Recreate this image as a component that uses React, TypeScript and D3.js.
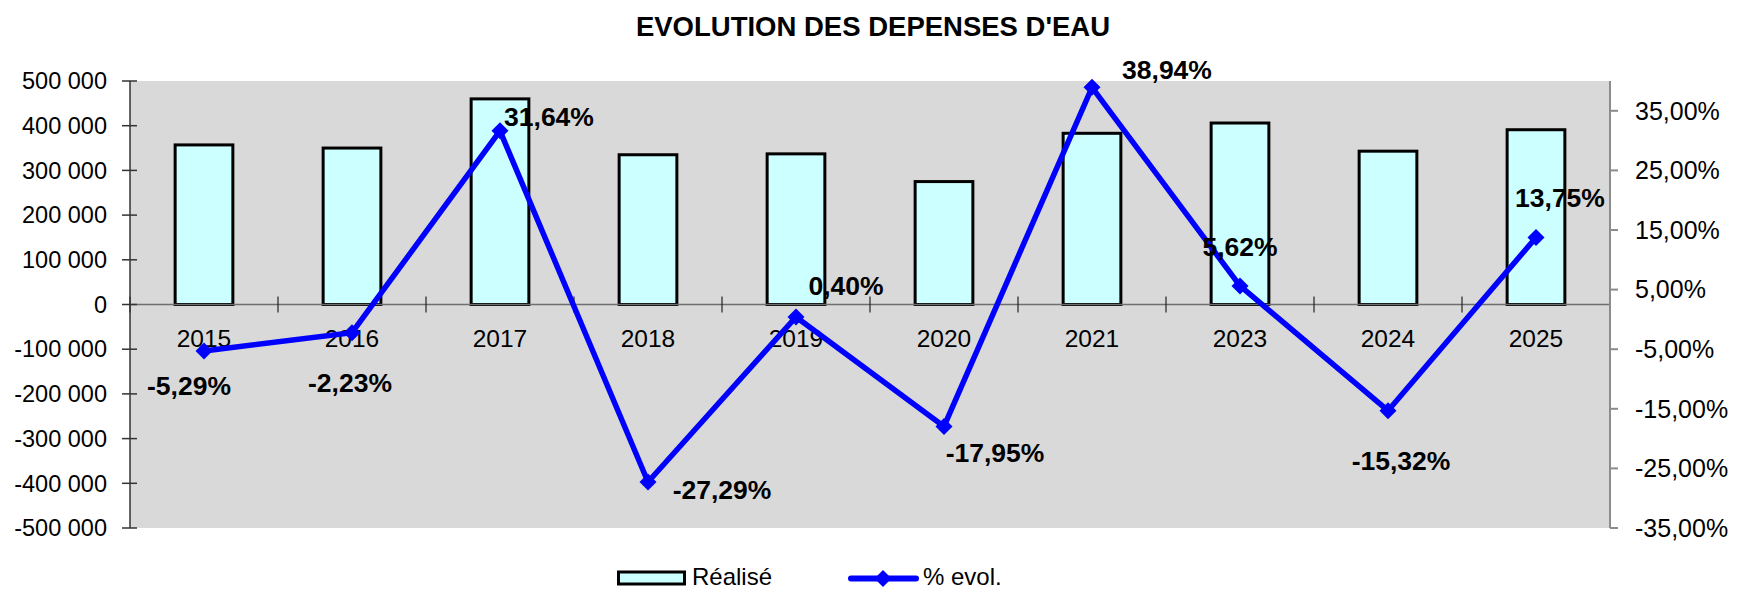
import React from "react";
import * as d3 from "d3";

const categories = ["2015", "2016", "2017", "2018", "2019", "2020", "2021", "2023", "2024", "2025"];
const realise = [357000, 350000, 460000, 335000, 337000, 275000, 383000, 406000, 343000, 391000];
const evolution = [-5.29, -2.23, 31.64, -27.29, 0.4, -17.95, 38.94, 5.62, -15.32, 13.75];
const leftTicks = [-500000, -400000, -300000, -200000, -100000, 0, 100000, 200000, 300000, 400000, 500000];
const rightTicks = [-35, -25, -15, -5, 5, 15, 25, 35];
const title = "EVOLUTION DES DEPENSES D'EAU";
const seriesNames = ["Réalisé", "% evol."];
// label placement relative to each point: [dx to label centre, dy to baseline]
const labelOffsets: [number, number][] = [
  [-15, 44], [-2, 59], [49, -5], [74, 17], [50, -22],
  [51, 36], [75, -8], [0, -30], [13, 59], [24, -30],
];

const W = 1740;
const H = 589;
const plot = { left: 130, right: 1610, top: 81, bottom: 528 };
const FONT = "'Liberation Sans', Arial, Helvetica, sans-serif";

const fmtThousands = (v: number) => {
  const s = d3.format(",")(Math.abs(v)).replace(/,/g, " ");
  return (v < 0 ? "-" : "") + s;
};
const fmtPct = (v: number) =>
  (v < 0 ? "-" : "") + d3.format(".2f")(Math.abs(v)).replace(".", ",") + "%";

export default function App() {
  const x = d3.scaleBand<string>().domain(categories).range([plot.left, plot.right]).padding(0);
  const yL = d3.scaleLinear().domain([-500000, 500000]).range([plot.bottom, plot.top]);
  const yR = d3.scaleLinear().domain([-35, 40]).range([plot.bottom, plot.top]);
  const bw = x.bandwidth();
  const barW = bw * 0.39;
  const cx = (c: string) => (x(c) as number) + bw / 2;

  const line = d3
    .line<number>()
    .x((_, i) => cx(categories[i]))
    .y((d) => yR(d));

  const diamond = (px: number, py: number, r = 8.5) =>
    `M${px},${py - r}L${px + r},${py}L${px},${py + r}L${px - r},${py}Z`;

  const y0 = yL(0);
  const boundaries = categories.map((c) => x(c) as number).concat([plot.right]);

  return (
    <svg width={W} height={H} style={{ position: "absolute", left: 0, top: 0, background: "#fff" }} fontFamily={FONT}>
      {/* title */}
      <text x={W / 2 + 3} y={36} textAnchor="middle" fontSize={27.5} fontWeight="bold" fill="#000">
        {title}
      </text>

      {/* plot area */}
      <rect x={plot.left} y={plot.top} width={plot.right - plot.left} height={plot.bottom - plot.top} fill="#D9D9D9" />

      {/* bars */}
      {categories.map((c, i) => {
        const v = realise[i];
        const top = yL(Math.max(0, v));
        const h = Math.abs(yL(v) - y0);
        return (
          <rect
            key={c}
            x={cx(c) - barW / 2}
            y={top}
            width={barW}
            height={h}
            fill="#CCFFFF"
            stroke="#000"
            strokeWidth={3}
          />
        );
      })}

      {/* zero category axis */}
      <line x1={plot.left} x2={plot.right} y1={y0} y2={y0} stroke="#6e6e6e" strokeWidth={1.5} />
      {boundaries.map((bx, i) => (
        <line key={i} x1={bx} x2={bx} y1={y0 - 8} y2={y0 + 8} stroke="#222" strokeWidth={1.2} />
      ))}
      {categories.map((c) => (
        <text key={c} x={cx(c)} y={347} textAnchor="middle" fontSize={24.5} fill="#000">
          {c}
        </text>
      ))}

      {/* left axis */}
      <line x1={plot.left} x2={plot.left} y1={plot.top} y2={plot.bottom} stroke="#333" strokeWidth={1.5} />
      {leftTicks.map((t) => (
        <g key={t}>
          <line x1={plot.left - 8} x2={plot.left + 7} y1={yL(t)} y2={yL(t)} stroke="#333" strokeWidth={1.5} />
          <text x={107} y={yL(t)} dy="0.35em" textAnchor="end" fontSize={23.5} fill="#000">
            {fmtThousands(t)}
          </text>
        </g>
      ))}

      {/* right axis */}
      <line x1={plot.right} x2={plot.right} y1={plot.top} y2={plot.bottom} stroke="#8c8c8c" strokeWidth={2} />
      {rightTicks.map((t) => (
        <g key={t}>
          <line x1={plot.right} x2={plot.right + 8} y1={yR(t)} y2={yR(t)} stroke="#8c8c8c" strokeWidth={2} />
          <text x={1635} y={yR(t)} dy="0.35em" textAnchor="start" fontSize={25} fill="#000">
            {fmtPct(t)}
          </text>
        </g>
      ))}

      {/* line series */}
      <path d={line(evolution) || ""} fill="none" stroke="#0000FF" strokeWidth={5.5} strokeLinejoin="miter" />
      {evolution.map((v, i) => (
        <path key={i} d={diamond(cx(categories[i]), yR(v))} fill="#0000FF" />
      ))}

      {/* data labels */}
      {evolution.map((v, i) => (
        <text
          key={i}
          x={cx(categories[i]) + labelOffsets[i][0]}
          y={yR(v) + labelOffsets[i][1]}
          textAnchor="middle"
          fontSize={26.5}
          fontWeight="bold"
          fill="#000"
        >
          {fmtPct(v)}
        </text>
      ))}

      {/* legend */}
      <rect x={618.5} y={572} width={66} height={12} fill="#CCFFFF" stroke="#000" strokeWidth={3} />
      <text x={692} y={585} fontSize={24} fill="#000">
        {seriesNames[0]}
      </text>
      <line x1={851} x2={916} y1={578.5} y2={578.5} stroke="#0000FF" strokeWidth={6} strokeLinecap="round" />
      <path d={diamond(883, 578.5, 8.5)} fill="#0000FF" />
      <text x={923} y={585} fontSize={24} fill="#000">
        {seriesNames[1]}
      </text>
    </svg>
  );
}
